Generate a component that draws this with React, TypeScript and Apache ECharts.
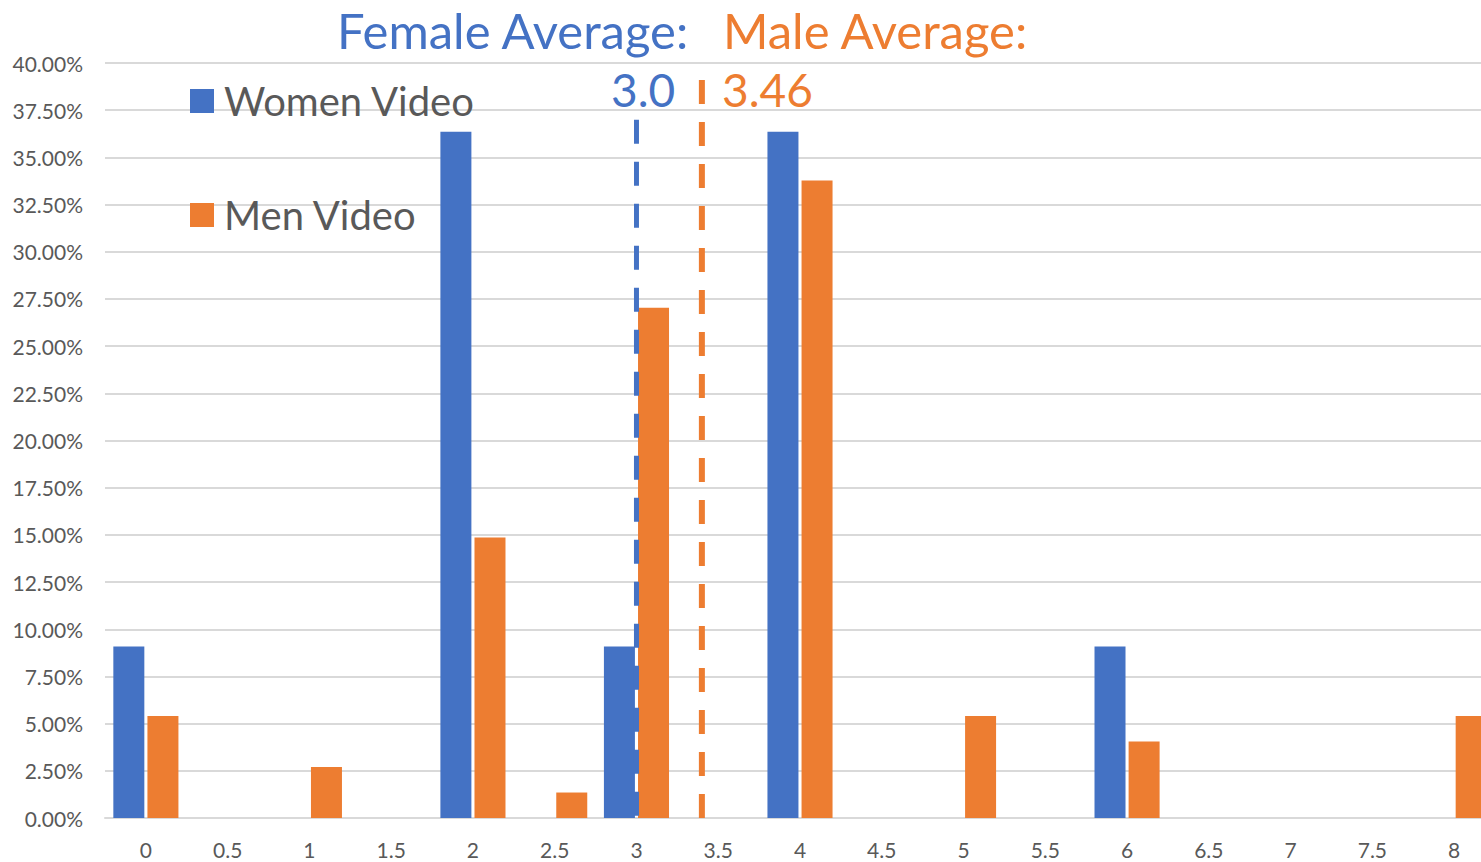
import React, { useEffect, useRef } from "react";
import * as echarts from "echarts";

const categories = ["0", "0.5", "1", "1.5", "2", "2.5", "3", "3.5", "4", "4.5", "5", "5.5", "6", "6.5", "7", "7.5", "8"];
const womenValues = [0.0909, 0, 0, 0, 0.3636, 0, 0.0909, 0, 0.3636, 0, 0, 0, 0.0909, 0, 0, 0, 0];
const menValues = [0.0541, 0, 0.027, 0, 0.1486, 0.0135, 0.2703, 0, 0.3378, 0, 0.0541, 0, 0.0405, 0, 0, 0, 0.0541];
const seriesNames = ["Women Video", "Men Video"];
const femaleAvgPos = 3.0;
const maleAvgPos = 3.4;
const femaleLineTop = 0.37;
const maleLineTop = 0.391;
const femaleAvgLabel = "3.0";
const maleAvgLabel = "3.46";

const BLUE = "#4472C4";
const ORANGE = "#ED7D31";
const FONT = "Lato, 'Open Sans', sans-serif";

export default function App() {
  const ref = useRef<HTMLDivElement>(null);
  useEffect(() => {
    if (!ref.current) return;
    const chart = echarts.init(ref.current, null, { renderer: "svg" });
    chart.setOption({
      animation: false,
      backgroundColor: "#ffffff",
      textStyle: { fontFamily: FONT },
      grid: { left: 105, right: 0, top: 63, bottom: 44, containLabel: false },
      legend: {
        orient: "vertical",
        left: 185,
        top: 76,
        itemWidth: 24,
        itemHeight: 24,
        itemGap: 74,
        icon: "rect",
        textStyle: { fontSize: 40, color: "#595959", fontFamily: FONT, lineHeight: 40, padding: [0, 0, 0, 5] },
        data: seriesNames,
      },
      xAxis: [
        {
          type: "category",
          data: categories,
          axisLine: { lineStyle: { color: "#d9d9d9", width: 2 } },
          axisTick: { show: false },
          axisLabel: { color: "#595959", fontSize: 21, margin: 21, fontFamily: FONT },
        },
        {
          type: "value",
          min: -0.25,
          max: 8.25,
          show: false,
        },
      ],
      yAxis: {
        type: "value",
        min: 0,
        max: 0.4,
        interval: 0.025,
        axisLine: { show: false },
        axisTick: { show: false },
        splitLine: { lineStyle: { color: "#d9d9d9", width: 2 } },
        axisLabel: {
          color: "#595959",
          fontSize: 21,
          margin: 22,
          fontFamily: FONT,
          formatter: (v: number) => (v * 100).toFixed(2) + "%",
        },
      },
      series: [
        {
          name: seriesNames[0],
          type: "bar",
          data: womenValues,
          barWidth: 31,
          barGap: "10%",
          itemStyle: { color: BLUE },
        },
        {
          name: seriesNames[1],
          type: "bar",
          data: menValues,
          barWidth: 31,
          barGap: "10%",
          itemStyle: { color: ORANGE },
        },
        {
          type: "line",
          xAxisIndex: 1,
          data: [[femaleAvgPos, femaleLineTop], [femaleAvgPos, 0]],
          symbol: "none",
          z: 10,
          lineStyle: { color: BLUE, width: 5, type: [24, 18] },
          silent: true,
        },
        {
          type: "line",
          xAxisIndex: 1,
          data: [[maleAvgPos, maleLineTop], [maleAvgPos, 0]],
          symbol: "none",
          z: 10,
          lineStyle: { color: ORANGE, width: 6, type: [24, 18] },
          silent: true,
        },
      ],
      graphic: [
        {
          type: "text",
          x: 337,
          y: 29.5,
          style: { text: "Female Average:", fill: BLUE, fontSize: 49, fontFamily: FONT, verticalAlign: "middle", align: "left" },
        },
        {
          type: "text",
          x: 723,
          y: 29.5,
          style: { text: "Male Average:", fill: ORANGE, fontSize: 49, fontFamily: FONT, verticalAlign: "middle", align: "left" },
        },
        {
          type: "text",
          left: 611,
          top: 66,
          style: { text: femaleAvgLabel, fill: BLUE, fontSize: 46, fontFamily: FONT },
        },
        {
          type: "text",
          left: 722,
          top: 66,
          style: { text: maleAvgLabel, fill: ORANGE, fontSize: 46, fontFamily: FONT },
        },
      ],
    });
    return () => chart.dispose();
  }, []);
  return (
    <div style={{ position: "fixed", left: 0, top: 0, width: 1481, height: 862, overflow: "hidden", background: "#fff" }}>
      <div ref={ref} style={{ width: 1495, height: 862 }} />
    </div>
  );
}
